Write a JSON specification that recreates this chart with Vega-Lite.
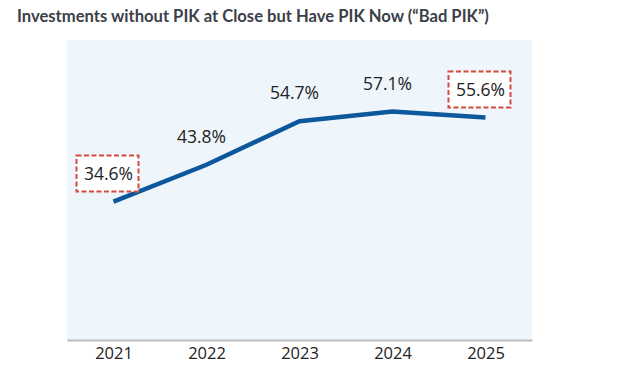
{
  "$schema": "https://vega.github.io/schema/vega-lite/v6.json",
  "width": 465,
  "height": 300,
  "autosize": {"type": "none"},
  "padding": {"left": 67, "top": 40, "right": 88, "bottom": 35},
  "background": "white",
  "title": {
    "text": "Investments without PIK at Close but Have PIK Now (“Bad PIK”)",
    "anchor": "start",
    "dx": -50,
    "offset": 14,
    "font": "Lato",
    "fontSize": 16.6,
    "fontWeight": "bold",
    "color": "#3b4048"
  },
  "config": {
    "view": {"fill": "#eef6fb", "stroke": null}
  },
  "data": {
    "values": [
      {"year": "2021", "value": 34.6, "label": "34.6%", "boxed": true},
      {"year": "2022", "value": 43.8, "label": "43.8%", "boxed": false},
      {"year": "2023", "value": 54.7, "label": "54.7%", "boxed": false},
      {"year": "2024", "value": 57.1, "label": "57.1%", "boxed": false},
      {"year": "2025", "value": 55.6, "label": "55.6%", "boxed": true}
    ]
  },
  "encoding": {
    "x": {
      "field": "year",
      "type": "ordinal",
      "scale": {"type": "point", "padding": 0.5},
      "axis": {
        "title": null,
        "labelAngle": 0,
        "ticks": false,
        "domainColor": "#b9bec4",
        "domainWidth": 2,
        "labelFont": "Open Sans",
        "labelFontSize": 16.5,
        "labelColor": "#222222",
        "labelPadding": 5
      }
    },
    "y": {
      "field": "value",
      "type": "quantitative",
      "scale": {"domain": [0, 75]},
      "axis": null
    }
  },
  "layer": [
    {
      "mark": {"type": "line", "color": "#0d579d", "strokeWidth": 4.5, "strokeCap": "butt"}
    },
    {
      "transform": [{"filter": "datum.boxed"}],
      "mark": {
        "type": "point",
        "shape": "M-1,-0.58H1V0.58H-1Z",
        "size": 3844,
        "filled": false,
        "fill": "white",
        "fillOpacity": 1,
        "stroke": "#d44a3e",
        "strokeWidth": 2,
        "strokeDash": [5, 2.5],
        "opacity": 1,
        "xOffset": -6,
        "yOffset": -28
      }
    },
    {
      "mark": {
        "type": "text",
        "dx": -5,
        "dy": -27,
        "font": "Open Sans",
        "fontSize": 17.5,
        "color": "#222222"
      },
      "encoding": {"text": {"field": "label"}}
    }
  ]
}
